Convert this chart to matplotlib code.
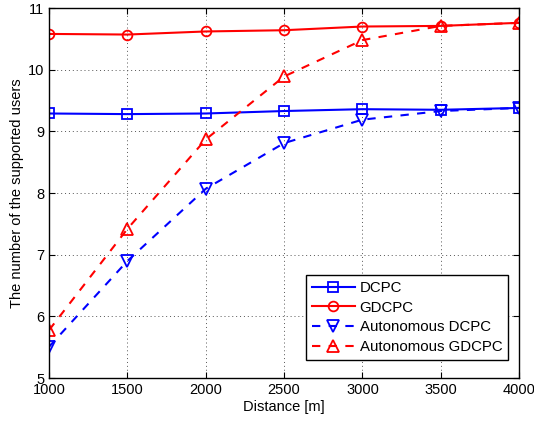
import matplotlib
matplotlib.use("Agg")
import matplotlib.pyplot as plt

plt.rcParams['font.family'] = ['Liberation Sans', 'DejaVu Sans']

distance = [1000, 1500, 2000, 2500, 3000, 3500, 4000]
dcpc = [9.29, 9.28, 9.29, 9.33, 9.36, 9.35, 9.38]
gdcpc = [10.58, 10.57, 10.62, 10.64, 10.70, 10.71, 10.76]
auto_dcpc = [5.51, 6.90, 8.07, 8.81, 9.19, 9.33, 9.38]
auto_gdcpc = [5.78, 7.42, 8.87, 9.89, 10.48, 10.71, 10.76]

xticks = [1000, 1500, 2000, 2500, 3000, 3500, 4000]
yticks = [5, 6, 7, 8, 9, 10, 11]

fig = plt.figure(figsize=(5.34, 4.22), dpi=100)
ax = fig.add_axes([0.092, 0.104, 0.880, 0.877])

ms = 7
ax.plot(distance, dcpc, '-', color='#0000ff', marker='s', mfc='none', mew=1.3, ms=ms, lw=1.5, label='DCPC')
ax.plot(distance, gdcpc, '-', color='#ff0000', marker='o', mfc='none', mew=1.3, ms=ms, lw=1.5, label='GDCPC')
ax.plot(distance, auto_dcpc, '--', color='#0000ff', marker='v', mfc='none', mew=1.3, ms=ms + 1, lw=1.5,
        dashes=(4, 4), label='Autonomous DCPC')
ax.plot(distance, auto_gdcpc, '--', color='#ff0000', marker='^', mfc='none', mew=1.3, ms=ms + 1, lw=1.5,
        dashes=(4, 4), label='Autonomous GDCPC')

ax.set_xlim(1000, 4000)
ax.set_ylim(5, 11)
ax.set_xticks(xticks)
ax.set_yticks(yticks)
ax.grid(True, linestyle=(0, (1, 3)), color='#555555', linewidth=0.7)
ax.tick_params(direction='in', top=True, right=True, labelsize=10.5, length=4)
for s in ax.spines.values():
    s.set_linewidth(1.0)

ax.set_xlabel('Distance [m]', fontsize=10.5, labelpad=2)
ax.set_ylabel('The number of the supported users', fontsize=10.5, labelpad=3)

leg = ax.legend(loc='lower right', bbox_to_anchor=(0.977, 0.049), fontsize=10.8, fancybox=False,
                edgecolor='black', handlelength=2.9, handletextpad=0.3, borderaxespad=0,
                labelspacing=0.38, framealpha=1)
leg.get_frame().set_linewidth(1.0)

fig.savefig('out.png', dpi=100)
